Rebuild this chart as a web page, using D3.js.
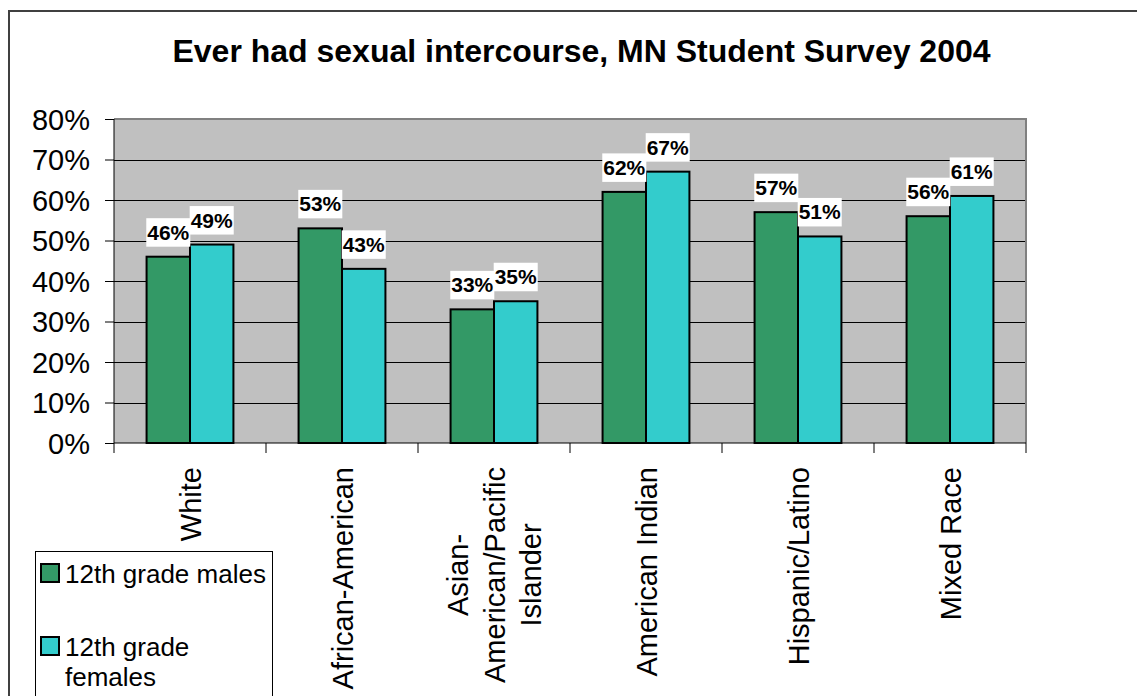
<!DOCTYPE html>
<html>
<head>
<meta charset="utf-8">
<script src="https://d3js.org/d3.v7.min.js"></script>
<style>
  body { margin: 0; background: #fff; }
  text { font-family: Arial, "Liberation Sans", sans-serif; fill: #000; }
</style>
</head>
<body>
<script>
// chart values
var categories = ["White", "African-American", "Asian-American/Pacific Islander", "American Indian", "Hispanic/Latino", "Mixed Race"];
var categoryLines = [["White"], ["African-American"], ["Asian-", "American/Pacific", "Islander"], ["American Indian"], ["Hispanic/Latino"], ["Mixed Race"]];
var seriesNames = ["12th grade males", "12th grade females"];
var males = [46, 53, 33, 62, 57, 56];
var females = [49, 43, 35, 67, 51, 61];
var yTicks = [0, 0.1, 0.2, 0.3, 0.4, 0.5, 0.6, 0.7, 0.8];
var colors = ["#339966", "#33CCCC"];

var width = 1137, height = 696;
var plotLeft = 114, plotRight = 1026, plotTop = 119, plotBottom = 443;

var svg = d3.select("body").append("svg")
    .attr("width", width)
    .attr("height", height);

// outer chart frame
svg.append("path")
    .attr("d", "M9," + height + "V11H" + width)
    .attr("fill", "none")
    .attr("stroke", "#404040")
    .attr("stroke-width", 2);

svg.append("text")
    .attr("x", 581.5)
    .attr("y", 62)
    .attr("text-anchor", "middle")
    .style("font-size", "32px")
    .style("font-weight", "bold")
    .text("Ever had sexual intercourse, MN Student Survey 2004");

var x = d3.scaleBand().domain(categories).range([plotLeft, plotRight]);
var xs = d3.scaleBand().domain(seriesNames).range([0, x.bandwidth()]).paddingInner(0).paddingOuter(0.75);
var y = d3.scaleLinear().domain([0, 0.8]).range([plotBottom, plotTop]);

// plot area
svg.append("rect")
    .attr("x", plotLeft).attr("y", plotTop)
    .attr("width", plotRight - plotLeft).attr("height", plotBottom - plotTop)
    .attr("fill", "#C0C0C0");

svg.append("g").selectAll("line")
    .data(yTicks.filter(function(d) { return d > 0 && d < 0.8; }))
    .enter().append("line")
    .attr("x1", plotLeft).attr("x2", plotRight)
    .attr("y1", function(d) { return Math.round(y(d)) + 0.5; })
    .attr("y2", function(d) { return Math.round(y(d)) + 0.5; })
    .attr("stroke", "#000")
    .attr("stroke-width", 1);

svg.append("path")
    .attr("d", "M" + plotLeft + "," + plotTop + "H" + plotRight + "V" + plotBottom)
    .attr("fill", "none")
    .attr("stroke", "#808080")
    .attr("stroke-width", 2);

// bars
var rows = categories.map(function(c, i) {
    return { cat: c, values: [{ s: seriesNames[0], v: males[i] }, { s: seriesNames[1], v: females[i] }] };
});

var groups = svg.append("g").selectAll("g")
    .data(rows)
    .enter().append("g")
    .attr("transform", function(d) { return "translate(" + x(d.cat) + ",0)"; });

groups.selectAll("rect")
    .data(function(d) { return d.values; })
    .enter().append("rect")
    .attr("x", function(d) { return xs(d.s); })
    .attr("y", function(d) { return y(d.v / 100); })
    .attr("width", xs.bandwidth())
    .attr("height", function(d) { return plotBottom - y(d.v / 100); })
    .attr("fill", function(d, i) { return colors[i]; })
    .attr("stroke", "#000")
    .attr("stroke-width", 2);

// value labels with white boxes
groups.selectAll("g.lbl")
    .data(function(d) { return d.values; })
    .enter().append("g")
    .attr("class", "lbl")
    .each(function(d) {
        var g = d3.select(this);
        var cx = xs(d.s) + xs.bandwidth() / 2;
        var yt = y(d.v / 100);
        var rect = g.append("rect").attr("fill", "#fff");
        var t = g.append("text")
            .attr("x", cx)
            .attr("y", yt - 17)
            .attr("text-anchor", "middle")
            .style("font-size", "21px")
            .style("font-weight", "bold")
            .text(d.v + "%");
        var w = t.node().getComputedTextLength() + 2;
        rect.attr("x", cx - w / 2).attr("width", w)
            .attr("y", yt - 10 - 28.5).attr("height", 28.5);
    });

// y axis
var yAxis = svg.append("g")
    .attr("transform", "translate(" + plotLeft + ",0)")
    .call(d3.axisLeft(y).tickValues(yTicks).tickFormat(d3.format(".0%")).tickSize(9).tickSizeOuter(0).tickPadding(15));
yAxis.select(".domain").remove();
yAxis.selectAll(".tick line").attr("stroke", "#000");
yAxis.selectAll(".tick text")
    .attr("dy", "0.35em")
    .attr("fill", "#000")
    .style("font-size", "29px")
    .style("font-family", "Arial, 'Liberation Sans', sans-serif");

svg.append("line")
    .attr("x1", plotLeft).attr("x2", plotLeft)
    .attr("y1", plotTop).attr("y2", plotBottom + 10)
    .attr("stroke", "#000");

// x axis line and category boundary ticks
svg.append("line")
    .attr("x1", plotLeft).attr("x2", plotRight)
    .attr("y1", plotBottom).attr("y2", plotBottom)
    .attr("stroke", "#000");

svg.append("g").selectAll("line")
    .data(categories.slice(1).map(function(c) { return x(c); }).concat([plotRight]))
    .enter().append("line")
    .attr("x1", function(d) { return d; }).attr("x2", function(d) { return d; })
    .attr("y1", plotBottom).attr("y2", plotBottom + 10)
    .attr("stroke", "#000");

// rotated category labels
var lineStep = 36.5, labelTop = 467;
categories.forEach(function(c, i) {
    var lines = categoryLines[i];
    var g = svg.append("g")
        .attr("transform", "translate(" + (x(c) + x.bandwidth() / 2) + "," + labelTop + ") rotate(-90)");
    var texts = lines.map(function(l, j) {
        return g.append("text")
            .attr("y", (j - (lines.length - 1) / 2) * lineStep + 10.5)
            .attr("text-anchor", "middle")
            .style("font-size", "29px")
            .text(l);
    });
    var maxW = d3.max(texts, function(t) { return t.node().getComputedTextLength(); });
    texts.forEach(function(t) { t.attr("x", -maxW / 2); });
});

// legend
var legend = svg.append("g");
legend.append("rect")
    .attr("x", 35.5).attr("y", 551.5)
    .attr("width", 237).attr("height", 200)
    .attr("fill", "#fff")
    .attr("stroke", "#000")
    .attr("stroke-width", 1);

var legendItems = [
    { lines: ["12th grade males"], y: 564 },
    { lines: ["12th grade", "females"], y: 637 }
];
legendItems.forEach(function(item, i) {
    legend.append("rect")
        .attr("x", 41).attr("y", item.y)
        .attr("width", 18).attr("height", 18)
        .attr("fill", colors[i])
        .attr("stroke", "#000")
        .attr("stroke-width", 2);
    item.lines.forEach(function(l, j) {
        legend.append("text")
            .attr("x", 65)
            .attr("y", item.y + 19 + j * 30)
            .style("font-size", "26px")
            .text(l);
    });
});
</script>
</body>
</html>
